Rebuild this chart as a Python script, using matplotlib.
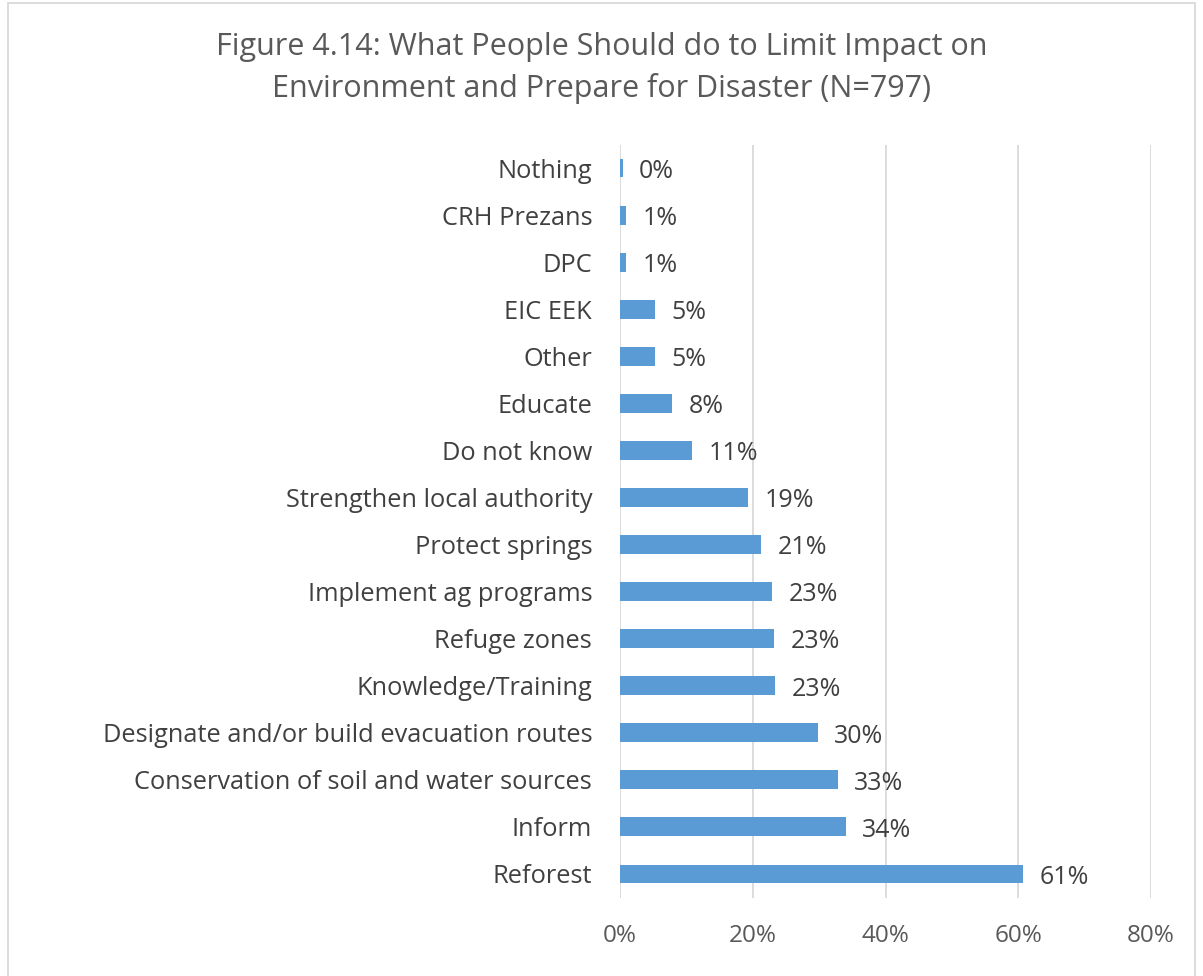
import matplotlib.pyplot as plt
from matplotlib.patches import Rectangle

categories = ["Reforest", "Inform", "Conservation of soil and water sources",
              "Designate and/or build evacuation routes", "Knowledge/Training",
              "Refuge zones", "Implement ag programs", "Protect springs",
              "Strengthen local authority", "Do not know", "Educate", "Other",
              "EIC EEK", "DPC", "CRH Prezans", "Nothing"]
values = [0.607, 0.340, 0.328, 0.298, 0.234, 0.232, 0.229, 0.212,
          0.193, 0.108, 0.078, 0.053, 0.053, 0.009, 0.009, 0.004]
xticks = [0, 0.2, 0.4, 0.6, 0.8]

plt.rcParams['font.family'] = ['Open Sans', 'DejaVu Sans']

fig = plt.figure(figsize=(12.03, 9.76), dpi=100)
ax = fig.add_axes([620 / 1203, 1 - 897.5 / 976, 531 / 1203, 753 / 976])

y = range(len(categories))
bars = ax.barh(y, values, height=0.4, color="#5B9BD5", zorder=3)
for b, v in zip(bars, values):
    ax.text(v + 0.025, b.get_y() + b.get_height() / 2 - 0.07, f"{v:.0%}",
            va="center", ha="left", fontsize=18, color="#404040")

ax.set_xlim(0, 0.8)
ax.set_ylim(-0.5, len(categories) - 0.5)
ax.set_xticks(xticks)
ax.set_xticklabels([f"{t:.0%}" for t in xticks])
ax.set_yticks(list(y))
ax.set_yticklabels(categories)
ax.grid(axis="x", color="#D9D9D9", linewidth=1.3, zorder=0)
for s in ax.spines.values():
    s.set_visible(False)
ax.tick_params(axis="y", length=0, labelsize=18.3, colors="#404040", pad=20)
ax.tick_params(axis="x", length=0, labelsize=17.5, colors="#595959", pad=19)

fig.text(0.5, 1 - 47 / 976, "Figure 4.14: What People Should do to Limit Impact on",
         ha="center", va="center", fontsize=22, color="#595959")
fig.text(0.5, 1 - 89 / 976, "Environment and Prepare for Disaster (N=797)",
         ha="center", va="center", fontsize=22, color="#595959")

fig.patches.append(Rectangle((8 / 1203, -0.01), 1187 / 1203, 1 - 3 / 976 + 0.01,
                             transform=fig.transFigure, fill=False,
                             edgecolor="#D9D9D9", linewidth=1.3))

fig.savefig("out.png", dpi=100)
